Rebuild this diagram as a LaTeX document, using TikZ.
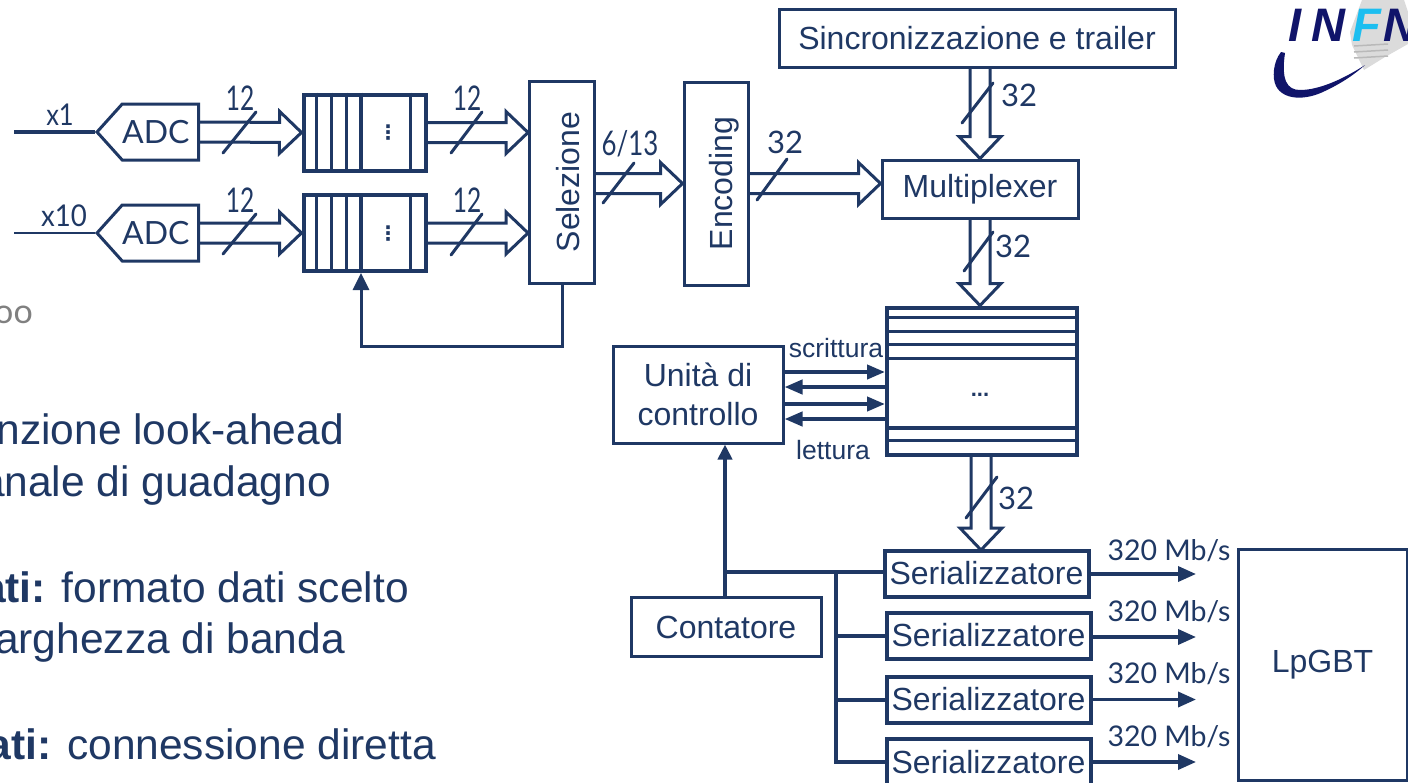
\documentclass[tikz,border=0pt]{standalone}
\usepackage{fontspec}
\setmainfont{Liberation Sans}
\newfontfamily\lab{Lato}
\newfontfamily\djv{DejaVu Sans}
\usetikzlibrary{calc,arrows.meta,shapes.symbols}
\definecolor{navy}{RGB}{31,56,100}
\definecolor{lognavy}{RGB}{16,20,106}
\definecolor{logcyan}{RGB}{28,190,240}
\newcommand{\fs}[1]{\fontsize{#1}{#1}\selectfont}
\newcommand{\narrow}[2]{\scalebox{#1}[1]{#2}}
\tikzset{
 box/.style={draw=navy,line width=3pt,inner sep=0pt,text=navy,align=center,fill=white,font=\fs{32}},
 thickbox/.style={box,line width=4pt},
 fifo/.style={draw=navy,line width=4pt,minimum width=122pt,minimum height=76pt,inner sep=0pt},
 lbl/.style={text=navy,inner sep=0pt,font=\lab\fs{31}},
 tall/.style={text=navy,inner sep=0pt,font=\lab\fs{34}},
 slide/.style={text=navy,inner sep=0pt,font=\fs{42.5},anchor=base east},
 slash/.style={draw=navy,line width=3pt,line cap=round},
 wire/.style={draw=navy,line width=3pt},
 fwd/.style={wire,-{Triangle[length=17pt,width=16pt]}},
 adc/.style={draw=navy,line width=3pt,signal,signal to=west,signal pointer angle=96,
   minimum width=100pt,minimum height=56pt,inner sep=0pt,text=navy,font=\lab\fs{32}},
 bus/.style={draw=navy,line width=3pt,line join=miter,
  to path={($(\tikztostart)!10pt!90:(\tikztotarget)$)
   -- ($(\tikztotarget)!22pt!(\tikztostart)!10pt!90:(\tikztotarget)$)
   -- ($(\tikztotarget)!22pt!(\tikztostart)!21pt!90:(\tikztotarget)$)
   -- (\tikztotarget)
   -- ($(\tikztotarget)!22pt!(\tikztostart)!21pt!-90:(\tikztotarget)$)
   -- ($(\tikztotarget)!22pt!(\tikztostart)!10pt!-90:(\tikztotarget)$)
   -- ($(\tikztostart)!10pt!-90:(\tikztotarget)$)}},
}
\begin{document}
\begin{tikzpicture}[x=1pt,y=-1pt]
\useasboundingbox (0,0) rectangle (1408,782);
\clip (0,0) rectangle (1408,782);
\fill[white] (0,0) rectangle (1408,782);
% slide text
\node[text=gray,inner sep=0pt,font=\lab\fs{34},anchor=base east] (oo) at (33,323) {oo};
\node[slide] (t1) at (344,444) {nzione look-ahead};
\node[slide] (t2) at (331,496) {anale di guadagno};
\node[slide] (t3) at (409,602) {\textbf{ati:} formato dati scelto};
\node[slide] (t4) at (345,653) {arghezza di banda};
\node[slide] (t5) at (436,759) {\textbf{ati:} connessione diretta};
% logo
\fill[gray!28] (1362,0) -- (1404,0) -- (1408,12) -- (1408,44) -- (1385,57) -- (1364,70) -- (1352,45) -- (1350,32) -- cycle;
\foreach \y in {46,52,58}
  \draw[gray!55,line width=1.5pt] (1354,\y) -- (1388,\y-2);
\node[inner sep=0pt,text=lognavy,font=\bfseries\itshape\fs{47},anchor=base west] (logoi) at (1288,41) {I};
\node[inner sep=0pt,text=lognavy,font=\bfseries\itshape\fs{47},anchor=base west] (logon) at (1311,41) {N};
\node[inner sep=0pt,text=logcyan,font=\bfseries\itshape\fs{47},anchor=base west] (logof) at (1352,41) {F};
\node[inner sep=0pt,text=lognavy,font=\bfseries\itshape\fs{47},anchor=base west] (logom) at (1383,41) {N};
\fill[lognavy] (1281,52) .. controls (1273,62) and (1272,78) .. (1276,86)
  .. controls (1283,100) and (1305,101) .. (1325,91) .. controls (1342,83) and (1355,74) .. (1365,65)
  .. controls (1345,78) and (1320,90) .. (1300,90) .. controls (1287,90) and (1281,80) .. (1285,53) -- cycle;
% boxes
\node[box,minimum width=396pt,minimum height=58pt] (sync) at (977,38) {\raisebox{-2pt}{Sincronizzazione e trailer}};
\node[box,minimum width=196pt,minimum height=58pt] (mux) at (980,189) {\raisebox{-3pt}{Multiplexer}};
\node[box,minimum width=65pt,minimum height=202pt] (sel) at (562,182) {\hspace*{12pt}\rotatebox{90}{Selezione}};
\node[box,minimum width=64pt,minimum height=203pt] (enc) at (716,183.5) {\hspace*{16pt}\rotatebox{90}{Encoding}};
\node[box,minimum width=170pt,minimum height=97pt] (ctl) at (698,394.5) {Unità di\\[7pt]controllo};
\node[box,minimum width=190pt,minimum height=59pt] (cnt) at (726,627) {Contatore};
\node[box,minimum width=169pt,minimum height=231pt] (lp) at (1322.5,664.5) {\raisebox{2pt}{LpGBT}};
\node[thickbox,minimum width=204pt,minimum height=46pt] (s1) at (986.5,573.5) {Serializzatore};
\node[thickbox,minimum width=204pt,minimum height=46pt] (s2) at (988.5,636) {\raisebox{2pt}{Serializzatore}};
\node[thickbox,minimum width=204pt,minimum height=46pt] (s3) at (988.5,699.5) {Serializzatore};
\node[thickbox,minimum width=204pt,minimum height=46pt] (s4) at (988.5,762) {Serializzatore};
% FIFOs
\node[fifo] (f1) at (364.5,132.5) {};
\node[fifo] (f2) at (364.5,233) {};
\foreach \n in {f1,f2}{
  \foreach \x/\w in {15/3,30/2.5,45/3,59/4,109/3}
    \draw[navy,line width=\w pt] ([xshift=\x pt]\n.north west) -- ([xshift=\x pt]\n.south west);
}
\node[text=navy,inner sep=0pt,font=\djv\bfseries\fs{20}] (d1) at (388,133) {⋮};
\node[text=navy,inner sep=0pt,font=\djv\bfseries\fs{20}] (d2) at (388,234) {⋮};
% memory
\node[draw=navy,line width=4pt,minimum width=190pt,minimum height=147pt,inner sep=0pt] (mem) at (982,381) {};
\foreach \y/\w in {12/3,26/3.5,39/3,53/3,122/4,135/3}
  \draw[navy,line width=\w pt] ([yshift=-\y pt]mem.north west) -- ([yshift=-\y pt]mem.north east);
\node[text=navy,inner sep=0pt,font=\bfseries\fs{22}] (dots) at (980,395) {...};
% ADCs
\coordinate (in1) at (14,132);
\coordinate (in2) at (14,233);
\node[adc,anchor=west] (a1) at (95,132) {ADC\hspace*{9pt}};
\node[adc,anchor=west] (a2) at (95,233) {ADC\hspace*{9pt}};
\draw[navy,line width=4pt] (in1) -- (a1.west);
\draw[navy,line width=2.5pt] (in2) -- (a2.west);
\node[lbl,font=\lab\fs{30}] (x1) at (60,115) {\narrow{.85}{x1}};
\node[lbl,font=\lab\fs{30}] (x2) at (64,216) {\narrow{.92}{x10}};
% buses
\draw[bus] (a1.east) to (f1.west);
\draw[bus] (a2.east) to (f2.west);
\draw[bus] (f1.east) to (sel.west |- f1.east);
\draw[bus] (f2.east) to (sel.west |- f2.east);
\draw[bus] (sel.east |- enc.east) to (enc.west);
\draw[bus] (enc.east) to (mux.west |- enc.east);
\draw[bus] (sync.south -| mux.north) to (mux.north);
\draw[bus] (mux.south) to (mem.north -| mux.south);
\coordinate (memout) at (981,455);
\coordinate (serin) at (981,550);
\draw[bus] (memout) to (serin);
% slashes
\draw[slash] (223,153) -- (256,112);
\draw[slash] (223,254) -- (256,214);
\draw[slash] (451,153) -- (482,112);
\draw[slash] (451,255) -- (482,214);
\draw[slash] (603,203) -- (634,163);
\draw[slash] (757,200) -- (787,159);
\draw[slash] (962,123) -- (993,83);
\draw[slash] (964,271) -- (993,232);
\draw[slash] (966,518) -- (997,477);
% bus labels
\node[tall] (l1) at (240,98) {\narrow{.72}{12}};
\node[tall] (l2) at (240,200) {\narrow{.72}{12}};
\node[tall] (l3) at (467,98) {\narrow{.72}{12}};
\node[tall] (l4) at (467,200) {\narrow{.72}{12}};
\node[tall] (l5) at (630,144) {\narrow{.76}{6/13}};
\node[lbl] (l6) at (785,142) {32};
\node[lbl] (l7) at (1019,95) {32};
\node[lbl] (l8) at (1013,246) {32};
\node[lbl] (l9) at (1016,498) {32};
% feedback and control wires
\draw[fwd] (sel.south) -- (sel.south |- 0,346) -| (f2.south -| 361,0);
\draw[wire,line width=4pt,-{Triangle[length=15pt,width=14pt]}] (cnt.north -| 725,0) -- (ctl.south -| 725,0);
\coordinate (bus1) at (836,572);
\draw[wire,line width=4pt] (725,572) -- (s1.west |- bus1);
\draw[wire,line width=4pt] (bus1) |- (s4.west);
\draw[wire,line width=4pt] (836,636) -- (s2.west);
\draw[wire,line width=4pt] (836,699.5) -- (s3.west);
% read / write arrows
\foreach \y/\n in {372/a,404/c}
  \draw[wire,line width=4pt,-{Triangle[length=18pt,width=14pt]}] (ctl.east |- 0,\y) -- (mem.west |- 0,\y);
\foreach \y/\n in {387/b,419/d}
  \draw[wire,line width=4pt,-{Triangle[length=18pt,width=14pt]}] (mem.west |- 0,\y) -- (ctl.east |- 0,\y);
\node[text=navy,inner sep=0pt,font=\fs{26.5}] (wr) at (836,348) {scrittura};
\node[text=navy,inner sep=0pt,font=\fs{26.5}] (rd) at (833,450) {lettura};
% outputs
\foreach \n/\y/\ly in {s1/574/551,s2/637/612,s3/699.5/674,s4/762/737}{
  \coordinate (o\n) at (1196,\y);
  \draw[wire,line width=3.5pt,-{Triangle[length=18pt,width=15pt]}] (\n.east |- o\n) -- (o\n);
  \node[lbl,font=\lab\fs{28.5}] (m\n) at (1169,\ly) {320 Mb/s};
}
\end{tikzpicture}
\end{document}
